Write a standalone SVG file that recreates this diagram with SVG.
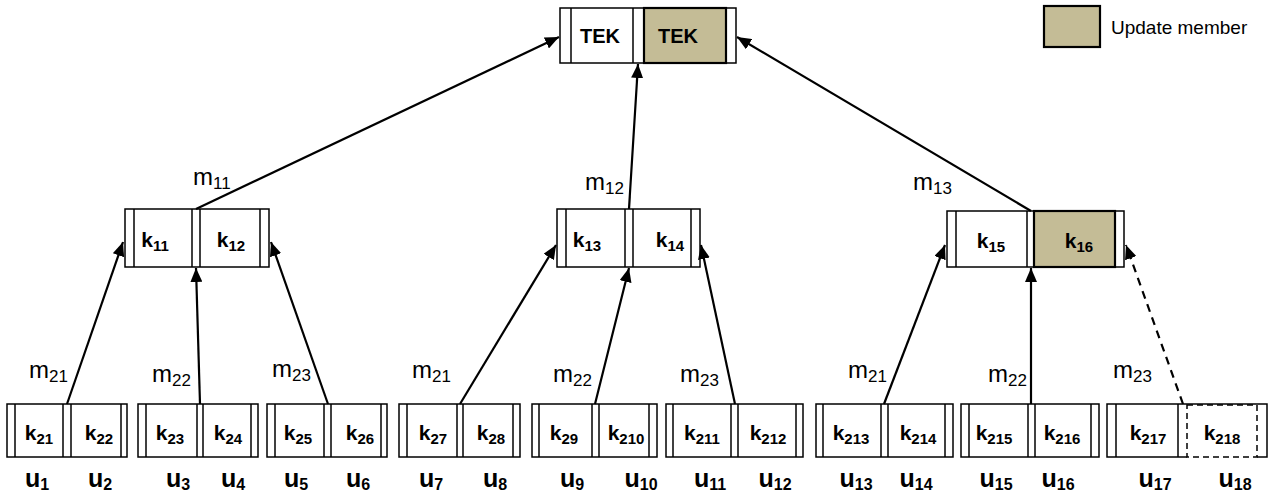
<svg xmlns="http://www.w3.org/2000/svg" width="1272" height="498" viewBox="0 0 1272 498">
  <style>
    .box { fill: #ffffff; stroke: #000000; stroke-width: 1.5; }
    .upd { fill: #c4bc96; stroke: #000000; stroke-width: 2.2; }
    .ln { stroke: #000000; stroke-width: 1.5; fill: none; }
    .dash { stroke: #000000; stroke-width: 1.5; fill: none; stroke-dasharray: 6 4; }
    .edge { stroke: #000000; stroke-width: 2.2; fill: none; marker-end: url(#arrow); }
    .edge-dash { stroke: #000000; stroke-width: 2.2; fill: none; stroke-dasharray: 8 6; marker-end: url(#arrow); }
    .key { font-family: "Liberation Sans", Arial, sans-serif; font-weight: bold; font-size: 21px; text-anchor: middle; fill: #000; }
    .tek { font-family: "Liberation Sans", Arial, sans-serif; font-weight: bold; font-size: 20px; text-anchor: middle; fill: #000; }
    .usr { font-family: "Liberation Sans", Arial, sans-serif; font-weight: bold; font-size: 25px; text-anchor: middle; fill: #000; }
    .msg { font-family: "Liberation Sans", Arial, sans-serif; font-size: 24px; fill: #000; }
    .leg { font-family: "Liberation Sans", Arial, sans-serif; font-size: 19px; fill: #000; }
    .sub { font-size: 15px; }
    .usub { font-size: 16px; }
    .msub { font-size: 17px; }
  </style>
  <defs>
    <marker id="arrow" markerUnits="userSpaceOnUse" markerWidth="14" markerHeight="12" refX="14" refY="6" orient="auto">
      <path d="M0,0 L14,6 L0,12 z" fill="#000"/>
    </marker>
  </defs>

  <!-- legend -->
  <g id="legend">
    <rect x="1044" y="6" width="56" height="41" class="upd"/>
    <text x="1111" y="34" class="leg">Update member</text>
  </g>

  <!-- root: group key -->
  <g id="tek">
    <rect x="560" y="8" width="176" height="55" class="box"/>
    <rect x="644" y="8" width="82" height="55" class="upd"/>
    <line x1="571" y1="8" x2="571" y2="63" class="ln"/>
    <line x1="633" y1="8" x2="633" y2="63" class="ln"/>
    <text x="600" y="43" class="tek">TEK</text>
    <text x="678" y="43" class="tek">TEK</text>
  </g>

  <!-- middle level -->
  <g id="n11">
    <rect x="125" y="209" width="144" height="58" class="box"/>
    <line x1="134" y1="209" x2="134" y2="267" class="ln"/>
    <line x1="192" y1="209" x2="192" y2="267" class="ln"/>
    <line x1="200" y1="209" x2="200" y2="267" class="ln"/>
    <line x1="260" y1="209" x2="260" y2="267" class="ln"/>
    <text x="155" y="247" class="key">k<tspan class="sub" dy="4">11</tspan></text>
    <text x="231" y="247" class="key">k<tspan class="sub" dy="4">12</tspan></text>
  </g>
  <g id="n13">
    <rect x="557" y="209" width="143" height="58" class="box"/>
    <line x1="566" y1="209" x2="566" y2="267" class="ln"/>
    <line x1="625" y1="209" x2="625" y2="267" class="ln"/>
    <line x1="633" y1="209" x2="633" y2="267" class="ln"/>
    <line x1="691" y1="209" x2="691" y2="267" class="ln"/>
    <text x="587" y="247" class="key">k<tspan class="sub" dy="4">13</tspan></text>
    <text x="670" y="247" class="key">k<tspan class="sub" dy="4">14</tspan></text>
  </g>
  <g id="n15">
    <rect x="947" y="211" width="177" height="56" class="box"/>
    <rect x="1034" y="211" width="81" height="56" class="upd"/>
    <line x1="956" y1="211" x2="956" y2="267" class="ln"/>
    <line x1="1027" y1="211" x2="1027" y2="267" class="ln"/>
    <text x="991" y="248" class="key">k<tspan class="sub" dy="4">15</tspan></text>
    <text x="1079" y="248" class="key">k<tspan class="sub" dy="4">16</tspan></text>
  </g>

  <!-- leaf level -->
  <g id="leaf1">
    <rect x="7" y="404" width="120" height="53" class="box"/>
    <line x1="15" y1="404" x2="15" y2="457" class="ln"/>
    <line x1="63" y1="404" x2="63" y2="457" class="ln"/>
    <line x1="71" y1="404" x2="71" y2="457" class="ln"/>
    <line x1="121" y1="404" x2="121" y2="457" class="ln"/>
    <text x="39" y="440" class="key">k<tspan class="sub" dy="4">21</tspan></text>
    <text x="99" y="440" class="key">k<tspan class="sub" dy="4">22</tspan></text>
  </g>
  <g id="leaf2">
    <rect x="138" y="404" width="120" height="53" class="box"/>
    <line x1="146" y1="404" x2="146" y2="457" class="ln"/>
    <line x1="197" y1="404" x2="197" y2="457" class="ln"/>
    <line x1="203" y1="404" x2="203" y2="457" class="ln"/>
    <line x1="251" y1="404" x2="251" y2="457" class="ln"/>
    <text x="170" y="440" class="key">k<tspan class="sub" dy="4">23</tspan></text>
    <text x="228" y="440" class="key">k<tspan class="sub" dy="4">24</tspan></text>
  </g>
  <g id="leaf3">
    <rect x="267" y="404" width="120" height="53" class="box"/>
    <line x1="275" y1="404" x2="275" y2="457" class="ln"/>
    <line x1="324" y1="404" x2="324" y2="457" class="ln"/>
    <line x1="331" y1="404" x2="331" y2="457" class="ln"/>
    <line x1="381" y1="404" x2="381" y2="457" class="ln"/>
    <text x="298" y="440" class="key">k<tspan class="sub" dy="4">25</tspan></text>
    <text x="360" y="440" class="key">k<tspan class="sub" dy="4">26</tspan></text>
  </g>
  <g id="leaf4">
    <rect x="399" y="404" width="121" height="53" class="box"/>
    <line x1="407" y1="404" x2="407" y2="457" class="ln"/>
    <line x1="457" y1="404" x2="457" y2="457" class="ln"/>
    <line x1="463" y1="404" x2="463" y2="457" class="ln"/>
    <line x1="513" y1="404" x2="513" y2="457" class="ln"/>
    <text x="433" y="440" class="key">k<tspan class="sub" dy="4">27</tspan></text>
    <text x="491" y="440" class="key">k<tspan class="sub" dy="4">28</tspan></text>
  </g>
  <g id="leaf5">
    <rect x="532" y="404" width="125" height="53" class="box"/>
    <line x1="539" y1="404" x2="539" y2="457" class="ln"/>
    <line x1="592" y1="404" x2="592" y2="457" class="ln"/>
    <line x1="599" y1="404" x2="599" y2="457" class="ln"/>
    <line x1="649" y1="404" x2="649" y2="457" class="ln"/>
    <text x="564" y="440" class="key">k<tspan class="sub" dy="4">29</tspan></text>
    <text x="626" y="440" class="key">k<tspan class="sub" dy="4">210</tspan></text>
  </g>
  <g id="leaf6">
    <rect x="666" y="404" width="137" height="53" class="box"/>
    <line x1="673" y1="404" x2="673" y2="457" class="ln"/>
    <line x1="731" y1="404" x2="731" y2="457" class="ln"/>
    <line x1="738" y1="404" x2="738" y2="457" class="ln"/>
    <line x1="796" y1="404" x2="796" y2="457" class="ln"/>
    <text x="702" y="440" class="key">k<tspan class="sub" dy="4">211</tspan></text>
    <text x="768" y="440" class="key">k<tspan class="sub" dy="4">212</tspan></text>
  </g>
  <g id="leaf7">
    <rect x="816" y="404" width="137" height="53" class="box"/>
    <line x1="823" y1="404" x2="823" y2="457" class="ln"/>
    <line x1="881" y1="404" x2="881" y2="457" class="ln"/>
    <line x1="888" y1="404" x2="888" y2="457" class="ln"/>
    <line x1="945" y1="404" x2="945" y2="457" class="ln"/>
    <text x="851" y="440" class="key">k<tspan class="sub" dy="4">213</tspan></text>
    <text x="918" y="440" class="key">k<tspan class="sub" dy="4">214</tspan></text>
  </g>
  <g id="leaf8">
    <rect x="961" y="404" width="138" height="53" class="box"/>
    <line x1="969" y1="404" x2="969" y2="457" class="ln"/>
    <line x1="1028" y1="404" x2="1028" y2="457" class="ln"/>
    <line x1="1035" y1="404" x2="1035" y2="457" class="ln"/>
    <line x1="1091" y1="404" x2="1091" y2="457" class="ln"/>
    <text x="994" y="440" class="key">k<tspan class="sub" dy="4">215</tspan></text>
    <text x="1062" y="440" class="key">k<tspan class="sub" dy="4">216</tspan></text>
  </g>
  <g id="leaf9">
    <!-- solid half holding k217, dashed cell for the new member -->
    <path d="M1187,457 L1107,457 L1107,404 L1267,404 L1267,457 L1257,457" class="ln"/>
    <line x1="1116" y1="404" x2="1116" y2="457" class="ln"/>
    <line x1="1178" y1="404" x2="1178" y2="457" class="ln"/>
    <rect x="1187" y="405" width="70" height="52" class="dash"/>
    <text x="1148" y="440" class="key">k<tspan class="sub" dy="4">217</tspan></text>
    <text x="1222" y="440" class="key">k<tspan class="sub" dy="4">218</tspan></text>
  </g>

  <!-- user labels -->
  <g id="users">
    <text x="37" y="487" class="usr">u<tspan class="usub" dy="3">1</tspan></text>
    <text x="100" y="487" class="usr">u<tspan class="usub" dy="3">2</tspan></text>
    <text x="178" y="487" class="usr">u<tspan class="usub" dy="3">3</tspan></text>
    <text x="233" y="487" class="usr">u<tspan class="usub" dy="3">4</tspan></text>
    <text x="296" y="487" class="usr">u<tspan class="usub" dy="3">5</tspan></text>
    <text x="358" y="487" class="usr">u<tspan class="usub" dy="3">6</tspan></text>
    <text x="431" y="487" class="usr">u<tspan class="usub" dy="3">7</tspan></text>
    <text x="495" y="487" class="usr">u<tspan class="usub" dy="3">8</tspan></text>
    <text x="572" y="487" class="usr">u<tspan class="usub" dy="3">9</tspan></text>
    <text x="641" y="487" class="usr">u<tspan class="usub" dy="3">10</tspan></text>
    <text x="710" y="487" class="usr">u<tspan class="usub" dy="3">11</tspan></text>
    <text x="775" y="487" class="usr">u<tspan class="usub" dy="3">12</tspan></text>
    <text x="856" y="487" class="usr">u<tspan class="usub" dy="3">13</tspan></text>
    <text x="916" y="487" class="usr">u<tspan class="usub" dy="3">14</tspan></text>
    <text x="996" y="487" class="usr">u<tspan class="usub" dy="3">15</tspan></text>
    <text x="1058" y="487" class="usr">u<tspan class="usub" dy="3">16</tspan></text>
    <text x="1155" y="487" class="usr">u<tspan class="usub" dy="3">17</tspan></text>
    <text x="1235" y="487" class="usr">u<tspan class="usub" dy="3">18</tspan></text>
  </g>

  <!-- connectors -->
  <g id="connectors">
    <line x1="196" y1="209" x2="559" y2="37" class="edge"/>
    <line x1="629" y1="209" x2="638" y2="64" class="edge"/>
    <line x1="1031" y1="211" x2="737" y2="37" class="edge"/>

    <line x1="67" y1="404" x2="123" y2="242" class="edge"/>
    <line x1="200" y1="404" x2="196" y2="268" class="edge"/>
    <line x1="328" y1="404" x2="271" y2="242" class="edge"/>

    <line x1="460" y1="404" x2="556" y2="245" class="edge"/>
    <line x1="595" y1="404" x2="629" y2="268" class="edge"/>
    <line x1="735" y1="404" x2="701" y2="245" class="edge"/>

    <line x1="884" y1="404" x2="945" y2="245" class="edge"/>
    <line x1="1031" y1="404" x2="1031" y2="268" class="edge"/>
    <line x1="1183" y1="404" x2="1126" y2="245" class="edge-dash"/>
  </g>

  <!-- message labels -->
  <g id="messages">
    <text x="193" y="185" class="msg">m<tspan class="msub" dy="4">11</tspan></text>
    <text x="585" y="190" class="msg">m<tspan class="msub" dy="4">12</tspan></text>
    <text x="913" y="190" class="msg">m<tspan class="msub" dy="4">13</tspan></text>
    <text x="29" y="378" class="msg">m<tspan class="msub" dy="4">21</tspan></text>
    <text x="152" y="382" class="msg">m<tspan class="msub" dy="4">22</tspan></text>
    <text x="272" y="377" class="msg">m<tspan class="msub" dy="4">23</tspan></text>
    <text x="412" y="378" class="msg">m<tspan class="msub" dy="4">21</tspan></text>
    <text x="553" y="382" class="msg">m<tspan class="msub" dy="4">22</tspan></text>
    <text x="680" y="382" class="msg">m<tspan class="msub" dy="4">23</tspan></text>
    <text x="848" y="378" class="msg">m<tspan class="msub" dy="4">21</tspan></text>
    <text x="988" y="382" class="msg">m<tspan class="msub" dy="4">22</tspan></text>
    <text x="1113" y="378" class="msg">m<tspan class="msub" dy="4">23</tspan></text>
  </g>
</svg>
